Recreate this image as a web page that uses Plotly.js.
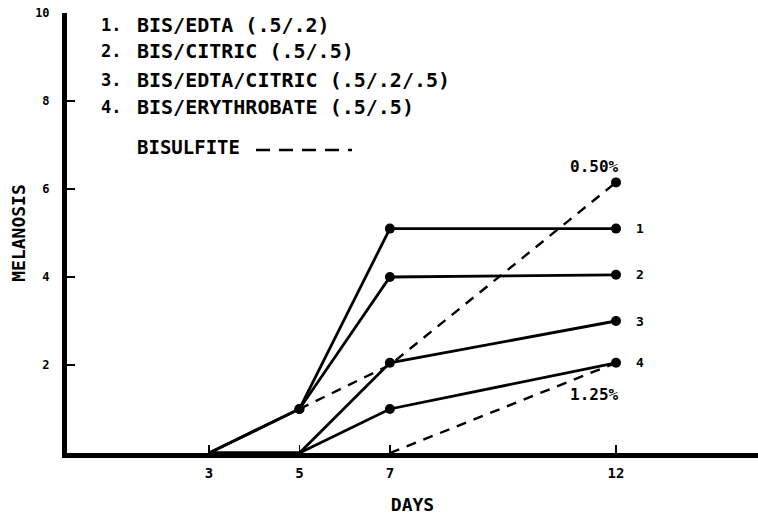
<!DOCTYPE html>
<html>
<head>
<meta charset="utf-8">
<script src="https://cdn.plot.ly/plotly-3.0.1.min.js"></script>
<style>html,body{margin:0;padding:0;background:#fff;}#chart{width:758px;height:516px;}</style>
</head>
<body>
<div id="chart"></div>
<script>
// ---- data ----
const days = [3, 5, 7, 12];
const bisEdta = [0, 1, 5.1, 5.1];
const bisCitric = [0, 1, 4.0, 4.05];
const bisEdtaCitric = [0, 0, 2.05, 3.0];
const bisErythrobate = [0, 0, 1.0, 2.05];
const bisulfite050Days = [5, 7, 12];
const bisulfite050 = [1, 2, 6.15];
const bisulfite125Days = [7, 12];
const bisulfite125 = [0, 2.05];
const seriesNumbers = ["1", "2", "3", "4"];
const legendNumbers = ["1.", "2.", "3.", "4."];
const legendNames = [
  "BIS/EDTA (.5/.2)",
  "BIS/CITRIC (.5/.5)",
  "BIS/EDTA/CITRIC (.5/.2/.5)",
  "BIS/ERYTHROBATE (.5/.5)"
];
const bisulfiteLegend = "BISULFITE";
const concLabels = ["0.50%", "1.25%"];
const xTicks = [3, 5, 7, 12];
const yTicks = [2, 4, 6, 8, 10];

// ---- layout helpers ----
const FONT = "DejaVu Sans Mono, Liberation Mono, monospace";
const plotL = 67, plotR = 758, plotT = 13, plotB = 453;
const px = x => (x - plotL) / (plotR - plotL);
const py = y => (plotB - y) / (plotB - plotT);

const solidSeries = [bisEdta, bisCitric, bisEdtaCitric, bisErythrobate];
const markerSizes = [[0, 10, 10, 10], [0, 10, 10, 10], [0, 0, 10, 10], [0, 0, 10, 10]];
const traces = solidSeries.map((ys, i) => ({
  x: days, y: ys, type: "scatter", mode: "lines+markers",
  line: {color: "#000", width: 2.8},
  marker: {color: "#000", size: markerSizes[i], opacity: 1, line: {width: 0}},
  showlegend: false, hoverinfo: "skip"
}));
traces.push({
  x: bisulfite050Days, y: bisulfite050, type: "scatter", mode: "lines+markers",
  line: {color: "#000", width: 2.4, dash: "10px,8px"},
  marker: {color: "#000", size: [0, 0, 10], opacity: 1, line: {width: 0}},
  showlegend: false, hoverinfo: "skip"
});
traces.push({
  x: bisulfite125Days, y: bisulfite125, type: "scatter", mode: "lines",
  line: {color: "#000", width: 2.4, dash: "10px,8px"}, showlegend: false, hoverinfo: "skip"
});

const bold = (size) => ({family: FONT, size: size, color: "#000", weight: "bold"});
const annotations = [];
// series numbers at the right end
solidSeries.forEach((ys, i) => {
  annotations.push({x: days[days.length - 1], y: ys[ys.length - 1], xref: "x", yref: "y",
    text: seriesNumbers[i], showarrow: false, xshift: 24, font: bold(13)});
});
annotations.push({x: bisulfite050Days[2], y: bisulfite050[2], xref: "x", yref: "y",
  text: concLabels[0], showarrow: false, xshift: -22, yshift: 16, font: bold(16)});
annotations.push({x: bisulfite125Days[1], y: bisulfite125[1], xref: "x", yref: "y",
  text: concLabels[1], showarrow: false, xshift: -22, yshift: -32, font: bold(16)});
// legend block
const legendY = [25, 51, 80, 107];
legendNames.forEach((t, i) => {
  annotations.push({x: px(99), y: py(legendY[i]), xref: "paper", yref: "paper",
    text: legendNumbers[i], showarrow: false, xanchor: "left", yanchor: "middle", font: bold(17)});
  annotations.push({x: px(135), y: py(legendY[i]), xref: "paper", yref: "paper",
    text: t, showarrow: false, xanchor: "left", yanchor: "middle", font: bold(20)});
});
annotations.push({x: px(135), y: py(147), xref: "paper", yref: "paper",
  text: bisulfiteLegend, showarrow: false, xanchor: "left", yanchor: "middle", font: bold(19)});

const shapes = [{type: "line", xref: "paper", yref: "paper",
  x0: px(256), x1: px(352), y0: py(150), y1: py(150),
  line: {color: "#000", width: 2.5, dash: "14px,9px"}}];

const layout = {
  width: 758, height: 516,
  margin: {l: plotL, r: 758 - plotR, t: plotT, b: 516 - plotB},
  paper_bgcolor: "#fff", plot_bgcolor: "#fff",
  showlegend: false,
  xaxis: {range: [-0.14, 15.14], tickvals: xTicks, ticktext: xTicks.map(String),
    ticks: "inside", ticklen: 8, tickwidth: 1.5, tickcolor: "#000",
    showline: true, linewidth: 5, linecolor: "#000", showgrid: false, zeroline: false,
    tickfont: bold(14), ticklabelstandoff: 3,
    title: {text: "DAYS", font: bold(18), standoff: 20}},
  yaxis: {range: [0, 10], tickvals: yTicks, ticktext: yTicks.map(String),
    ticks: "inside", ticklen: 8, tickwidth: 1.5, tickcolor: "#000",
    showline: true, linewidth: 5, linecolor: "#000", showgrid: false, zeroline: false,
    tickfont: bold(12), ticklabelstandoff: 10,
    title: {text: "MELANOSIS", font: bold(18), standoff: 6}},
  annotations: annotations, shapes: shapes
};

Plotly.newPlot("chart", traces, layout, {displayModeBar: false, staticPlot: true});
</script>
</body>
</html>
